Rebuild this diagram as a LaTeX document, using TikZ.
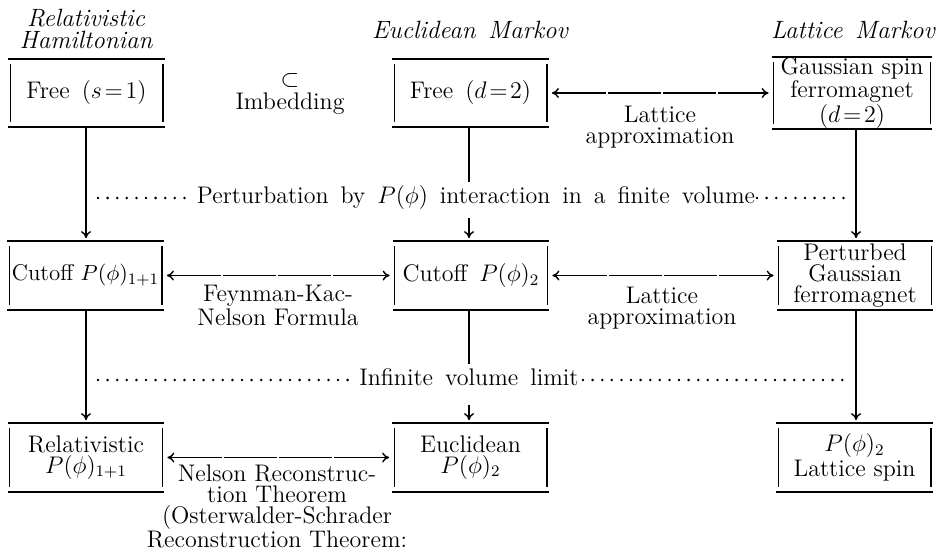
\documentclass[tikz,border=0pt]{standalone}
\usetikzlibrary{arrows.meta,calc}
\begin{document}
\begin{tikzpicture}[x=0.5pt,y=-0.5pt,
  every node/.style={font=\fontsize{12}{10.5}\selectfont, inner sep=0pt, align=center},
  oldbox/.style={minimum width=78pt, minimum height=34pt},
  ln/.style={line width=1pt},
  vln/.style={line width=0.6pt},
  arr/.style={line width=0.7pt, -{Computer Modern Rightarrow[length=3.5pt,width=5pt]}},
  darr/.style={line width=0.7pt, {Computer Modern Rightarrow[length=3.5pt,width=5pt]}-{Computer Modern Rightarrow[length=3.5pt,width=5pt]}, dash pattern=on 26.5pt off 1pt, shorten <=1.5pt, shorten >=1.5pt},
  dotline/.style={line width=1.4pt, line cap=round, dash pattern=on 0pt off 4.8pt},
  hdr/.style={font=\fontsize{12.5}{11}\selectfont\itshape}
]
\useasboundingbox (0,0) rectangle (946,551);

% headers
\node[hdr] (h1) at (86,29) {Relativistic\\Hamiltonian};
\node[hdr] (h2) at (470,30) {Euclidean\enspace Markov};
\node[hdr] (h3) at (853,30) {Lattice\enspace Markov};

% boxes
\node[oldbox] (a1) at (86.5,93) {Free\enspace($s\mkern2mu{=}\mkern2mu1$)};
\node[oldbox] (a2) at (470.5,93) {Free\enspace($d\mkern2mu{=}\mkern2mu2$)};
\node[oldbox, minimum width=80pt] (a3) at (852,93) {Gaussian spin\\ferromagnet\\($d\mkern2mu{=}\mkern2mu2$)};

\node[oldbox, font=\fontsize{11.4}{10}\selectfont] (b1) at (85.5,275.5) {Cutoff $P(\phi)_{1{+}1}$};
\node[oldbox] (b2) at (471,275.5) {Cutoff\enspace$P(\phi)_2$};
\node[oldbox] (b3) at (855,275.5) {Perturbed\\Gaussian\\ferromagnet};

\node[oldbox] (c1) at (86,457.5) {Relativistic\\$P(\phi)_{1+1}$};
\node[oldbox] (c2) at (470.5,457.5) {Euclidean\\$P(\phi)_2$};
\node[oldbox] (c3) at (854.5,457.5) {$P(\phi)_2$\\Lattice spin};

\foreach \n in {a1,a2,a3,b1,b2,b3,c1,c2,c3}{
  \draw[ln] (\n.north west) -- (\n.north east);
  \draw[ln] (\n.south west) -- (\n.south east);
  \draw[vln] ($(\n.north west)+(2,5)$) -- ($(\n.south west)+(2,-5)$);
  \draw[vln] ($(\n.north east)+(-2,5)$) -- ($(\n.south east)+(-2,-5)$);
}

% labels
\node (sub) at (290,81) {$\subset$};
\node[anchor=base] (imb) at (290,110) {Imbedding};
\node[anchor=north] (la1) at (660,106) {Lattice\\approximation};
\node[anchor=north] (fkn) at (278,285) {Feynman-Kac-\\Nelson Formula};
\node[anchor=north] (la2) at (662,287) {Lattice\\approximation};
\node[anchor=north, font=\fontsize{12}{10.5}\selectfont] (nrt) at (277,464) {Nelson Reconstruc-\\tion Theorem\\(Osterwalder-Schrader\\Reconstruction Theorem:};

\node[anchor=base] (pert) at (476,203) {Perturbation\enspace by\enspace $P(\phi)$\enspace interaction\enspace in\enspace a\enspace finite\enspace volume};
\node[anchor=base] (inf) at (469,385) {Infinite\enspace volume\enspace limit};

% dotted leaders
\coordinate (d1a) at (98,198);  \coordinate (d1b) at (190,198);
\coordinate (d1c) at (757,198); \coordinate (d1d) at (846,198);
\coordinate (d2a) at (98,380);  \coordinate (d2b) at (355,380);
\coordinate (d2c) at (583,380); \coordinate (d2d) at (846,380);
\draw[dotline] (d1a) -- (d1b);
\draw[dotline] (d1c) -- (d1d);
\draw[dotline] (d2a) -- (d2b);
\draw[dotline] (d2c) -- (d2d);

% vertical arrows
\coordinate (x1) at (86,0);
\coordinate (x2) at (469,0);
\coordinate (x3) at (856,0);
\coordinate (m1a) at (469,182);
\coordinate (m1b) at (469,218);
\coordinate (m2a) at (469,364);
\coordinate (m2b) at (469,405);
\draw[arr, shorten >=1.5pt] (a1.south -| x1) -- (b1.north -| x1);
\draw[arr, shorten >=1.5pt] (b1.south -| x1) -- (c1.north -| x1);
\draw[vln] (a2.south -| x2) -- (m1a);
\draw[arr, shorten >=1.5pt] (m1b) -- (b2.north -| x2);
\draw[vln] (b2.south -| x2) -- (m2a);
\draw[arr, shorten >=1.5pt] (m2b) -- (c2.north -| x2);
\draw[arr, shorten >=1.5pt] (a3.south -| x3) -- (b3.north -| x3);
\draw[arr, shorten >=1.5pt] (b3.south -| x3) -- (c3.north -| x3);

% horizontal arrows
\draw[darr] (a2.east) -- (a3.west);
\draw[darr] (b1.east) -- (b2.west);
\draw[darr] (b2.east) -- (b3.west);
\draw[darr] (c1.east) -- (c2.west);
\end{tikzpicture}
\end{document}
